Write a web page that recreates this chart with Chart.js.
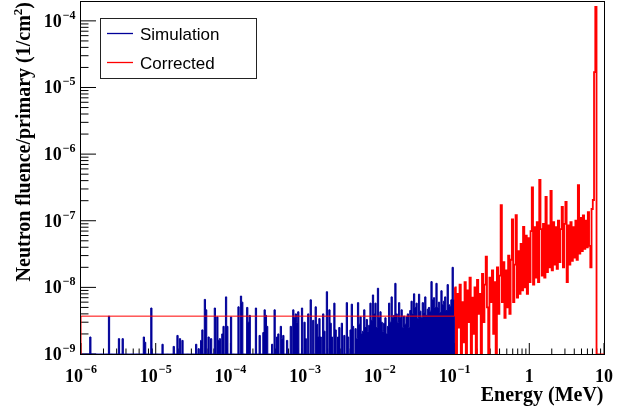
<!DOCTYPE html>
<html>
<head>
<meta charset="utf-8">
<title>Neutron fluence per primary</title>
<script src="https://cdn.jsdelivr.net/npm/chart.js@4.4.1/dist/chart.umd.min.js"></script>
<style>
  html, body { margin: 0; padding: 0; background: #fff; }
  canvas { display: block; }
</style>
</head>
<body>
<canvas id="spectrum" width="632" height="410"></canvas>
<script>
/* =====================================================================
   neutron fluence / primary vs energy, log-log histogram
   ===================================================================== */

// binning: 60 log bins per decade starting at 1 eV (1e-6 MeV)
const eMin = 1e-6;
const eMax = 10;
const binsPerDecade = 60;
const unit = 1e-9;          // all values below are in units of 1e-9 /cm2
const floorVal = 1e-9;      // empty bins are drawn on the axis, like ROOT does

// Simulation, bins 0..299 (1e-6 .. 0.1 MeV)
const simVals = [
  0, 0, 0, 0, 0, 0, 0, 1.8, 0, 0, 0, 0, 0, 0, 0, 0, 0, 0, 0, 0,
  0, 0, 3.7, 0, 0, 0, 0, 0, 0, 0, 1.7, 0, 0, 1.7, 0, 0, 0, 0, 0, 0,
  0, 0, 0, 0, 0, 0, 0, 0, 0, 0, 1.8, 1.5, 0, 0, 0, 0, 4.9, 0, 0, 0,
  0, 0, 0, 0, 0, 1.4, 0, 0, 0, 0, 0, 0, 0, 0, 1.3, 0, 0, 1.9, 0, 1.7,
  0, 1.6, 0, 0, 0, 0, 0, 0, 0, 0, 0, 0, 1.4, 0, 1.2, 0, 1.6, 2.3, 0, 6.6,
  4.6, 0, 1.8, 0, 1.7, 0, 0, 4.9, 0, 3.6, 1.6, 1.7, 0, 2.0, 2.6, 0, 7.2, 2.6, 0, 0,
  3.6, 0, 0, 0, 0, 0, 5.1, 0, 7.4, 6.0, 0, 0, 0, 5.0, 3.0, 3.8, 0, 0, 0, 0,
  4.9, 0, 0, 1.9, 0, 0, 2.1, 4.6, 3.8, 2.6, 0, 0, 0, 1.4, 0, 4.6, 0, 1.8, 2.0, 0,
  2.6, 1.7, 1.9, 0, 0, 1.6, 0, 0, 2.6, 0, 4.6, 3.5, 4.0, 3.0, 4.3, 0, 0, 4.9, 0, 3.0,
  1.7, 0, 4.0, 0, 6.5, 0, 3.2, 0, 5.1, 2.8, 1.8, 3.4, 1.8, 0, 4.0, 2.2, 0, 8.6, 0, 4.6,
  2.9, 1.8, 0, 5.8, 2.3, 0, 1.8, 2.5, 0, 2.9, 0, 1.9, 0, 5.9, 1.8, 0, 2.3, 5.6, 2.6, 0,
  2.4, 1.7, 5.9, 2.8, 3.6, 2.0, 2.2, 4.6, 2.5, 3.3, 2.2, 2.7, 5.8, 3.2, 7.7, 4.0, 5.8, 2.5, 9.7, 3.5,
  4.3, 3.0, 2.2, 2.9, 3.5, 2.0, 2.6, 5.8, 3.0, 7.2, 3.5, 3.8, 11.5, 4.0, 3.0, 5.9, 3.5, 4.6, 2.5, 3.7,
  2.8, 3.6, 4.0, 2.5, 4.5, 6.2, 4.0, 8.0, 5.0, 5.8, 3.4, 7.9, 4.4, 3.5, 5.9, 4.2, 7.2, 3.8, 4.7, 5.0,
  4.4, 12.2, 6.5, 7.0, 5.0, 11.5, 5.0, 6.0, 4.2, 8.9, 5.5, 6.2, 7.2, 4.5, 11.0, 5.5, 5.2, 6.5, 20, 6.5,
];

// Corrected: flat level below 0.1 MeV, then bins 300..413
const corrFlat = 3.7;
const corrStart = 300;
const corrVals = [
  10, 0, 8, 2.5, 11, 0, 6, 1.5, 12, 0,
  9, 3, 14, 0, 7, 2, 10, 0, 13, 4,
  8, 0, 16, 3, 11, 29, 5, 0, 14, 6,
  18, 2, 12, 0, 20, 4, 15, 172, 6, 24,
  3.5, 18, 5, 30, 4, 26, 105, 6, 22, 121,
  7, 35, 8, 45, 9, 81, 10, 60, 8, 55,
  12, 70, 316, 11, 80, 14, 95, 12, 410, 75,
  15, 90, 14, 229, 17, 85, 20, 280, 18, 95,
  22, 80, 19, 100, 24, 75, 162, 20, 90, 192,
  12, 85, 22, 95, 25, 80, 28, 100, 26, 343,
  32, 110, 35, 120, 38, 100, 40, 135, 42, 20,
  150, 205, 17000, 162000,
];

const xTicks = [1e-6, 1e-5, 1e-4, 1e-3, 1e-2, 1e-1, 1, 10];
const xTickLabels = [['10', '\u22126'], ['10', '\u22125'], ['10', '\u22124'], ['10', '\u22123'],
  ['10', '\u22122'], ['10', '\u22121'], ['1', ''], ['10', '']];
const yTicks = [1e-9, 1e-8, 1e-7, 1e-6, 1e-5, 1e-4];
const yTickLabels = [['10', '\u22129'], ['10', '\u22128'], ['10', '\u22127'],
  ['10', '\u22126'], ['10', '\u22125'], ['10', '\u22124']];

const SIM_COLOR = '#000099';
const CORR_COLOR = '#ff0000';
const SERIF = '"Liberation Serif", "DejaVu Serif", serif';

function binEdge(k) {
  return eMin * Math.pow(10, k / binsPerDecade);
}

// one point per low bin edge, stepped 'before' keeps the value up to the next edge
function histPoints(vals, k0) {
  const pts = vals.map((v, i) => ({ x: binEdge(k0 + i), y: v > 0 ? v * unit : floorVal }));
  pts.push({ x: binEdge(k0 + vals.length), y: floorVal });
  return pts;
}

const simPts = [{ x: eMin, y: floorVal }].concat(histPoints(simVals, 0));
const corrPts = [{ x: eMin, y: floorVal }, { x: eMin, y: corrFlat * unit }]
  .concat(histPoints(corrVals, corrStart), [{ x: eMax, y: floorVal }]);

// frame + ROOT style ticks (inside the frame), drawn under the histograms
const framePlugin = {
  id: 'frame',
  beforeDatasetsDraw(chart) {
    const { ctx, chartArea: a, scales: { x, y } } = chart;
    ctx.save();
    ctx.strokeStyle = '#000';
    ctx.lineWidth = 1;
    ctx.beginPath();
    for (let d = -6; d <= 1; d++) {
      for (let m = 1; m <= 9; m++) {
        const v = m * Math.pow(10, d);
        if (v < eMin * 0.999 || v > eMax * 1.001) continue;
        const px = x.getPixelForValue(v);
        ctx.moveTo(px, a.bottom);
        ctx.lineTo(px, a.bottom - (m === 1 ? 11 : 5.5));
      }
    }
    for (let d = -9; d <= -4; d++) {
      for (let m = 1; m <= 9; m++) {
        const v = m * Math.pow(10, d);
        if (v > y.max) continue;
        const py = y.getPixelForValue(v);
        ctx.moveTo(a.left, py);
        ctx.lineTo(a.left + (m === 1 ? 15 : 7.5), py);
      }
    }
    ctx.stroke();
    ctx.strokeRect(a.left - 0.5, a.top - 0.5, a.right - a.left + 1, a.bottom - a.top + 1);
    ctx.restore();
  },
  afterDraw(chart) {
    const { ctx, chartArea: a, scales: { x, y } } = chart;
    ctx.save();
    ctx.fillStyle = '#000';
    ctx.textBaseline = 'alphabetic';
    ctx.textAlign = 'left';

    // x tick labels, centred on the tick
    xTicks.forEach((v, i) => {
      const [base, exp] = xTickLabels[i];
      ctx.font = 'bold 18px ' + SERIF;
      const wb = ctx.measureText(base).width;
      ctx.font = 'bold 12px ' + SERIF;
      const we = exp ? ctx.measureText(exp).width + 1 : 0;
      const x0 = x.getPixelForValue(v) - (wb + we) / 2;
      const yb = a.bottom + 27.5;
      ctx.font = 'bold 18px ' + SERIF;
      ctx.fillText(base, x0, yb);
      if (exp) {
        ctx.font = 'bold 12px ' + SERIF;
        ctx.fillText(exp, x0 + wb + 1, yb - 8.5);
      }
    });

    // y tick labels, right aligned left of the axis
    yTicks.forEach((v, i) => {
      const [base, exp] = yTickLabels[i];
      ctx.font = 'bold 12px ' + SERIF;
      const we = ctx.measureText(exp).width;
      ctx.font = 'bold 18px ' + SERIF;
      const wb = ctx.measureText(base).width;
      const xr = a.left - 5.5;
      const yb = y.getPixelForValue(v) + 6;
      ctx.fillText(base, xr - we - 1 - wb, yb);
      ctx.font = 'bold 12px ' + SERIF;
      ctx.fillText(exp, xr - we, yb - 8);
    });

    // axis titles
    ctx.font = 'bold 20px ' + SERIF;
    ctx.textAlign = 'right';
    ctx.fillText('Energy (MeV)', a.right - 0.5, 401);

    ctx.save();
    ctx.translate(30, 2);
    ctx.rotate(-Math.PI / 2);
    ctx.textAlign = 'left';
    const main = 'Neutron fluence/primary (1/cm';
    ctx.font = 'bold 20px ' + SERIF;
    const w1 = ctx.measureText(main).width;
    const w3 = ctx.measureText(')').width;
    ctx.font = 'bold 13px ' + SERIF;
    const w2 = ctx.measureText('2').width;
    let cx = -(w1 + w2 + w3);
    ctx.font = 'bold 20px ' + SERIF;
    ctx.fillText(main, cx, 0);
    cx += w1;
    ctx.font = 'bold 13px ' + SERIF;
    ctx.fillText('2', cx, -8);
    cx += w2;
    ctx.font = 'bold 20px ' + SERIF;
    ctx.fillText(')', cx, 0);
    ctx.restore();

    // legend box
    ctx.lineWidth = 1;
    ctx.strokeStyle = '#222';
    ctx.strokeRect(100.5, 18.5, 156, 60);
    ctx.font = '17px "Liberation Sans", Arial, sans-serif';
    ctx.textAlign = 'left';
    chart.data.datasets.forEach((ds, i) => {
      const ly = 33.5 + i * 29;
      ctx.strokeStyle = ds.borderColor;
      ctx.lineWidth = 1.3;
      ctx.beginPath();
      ctx.moveTo(107, ly);
      ctx.lineTo(133, ly);
      ctx.stroke();
      ctx.fillStyle = '#000';
      ctx.fillText(ds.label, 140, ly + 6.5);
    });
    ctx.restore();
  },
};

// the noisy part above 0.1 MeV is drawn a bit heavier so the dense bins merge
const denseFrom = binEdge(corrStart) * 0.999;

new Chart(document.getElementById('spectrum'), {
  type: 'line',
  data: {
    datasets: [
      {
        label: 'Simulation',
        data: simPts,
        borderColor: SIM_COLOR,
        backgroundColor: SIM_COLOR,
        borderWidth: 1,
        stepped: 'before',
        fill: 'start',
        pointRadius: 0,
        order: 2,
      },
      {
        label: 'Corrected',
        data: corrPts,
        borderColor: CORR_COLOR,
        backgroundColor: CORR_COLOR,
        borderWidth: 1,
        stepped: 'before',
        fill: false,
        pointRadius: 0,
        order: 1,
        segment: {
          borderWidth: (c) => (c.p0.parsed.x >= denseFrom && c.p1.parsed.x < eMax * 0.99 ? 1.8 : 1),
        },
      },
    ],
  },
  options: {
    responsive: false,
    animation: false,
    events: [],
    layout: { padding: { left: 81, right: 28, top: 2, bottom: 56 } },
    scales: {
      x: { type: 'logarithmic', min: eMin, max: eMax, display: false },
      y: { type: 'logarithmic', min: 1e-9, max: 1.92e-4, display: false },
    },
    plugins: { legend: { display: false }, tooltip: { enabled: false } },
  },
  plugins: [framePlugin],
});
</script>
</body>
</html>
